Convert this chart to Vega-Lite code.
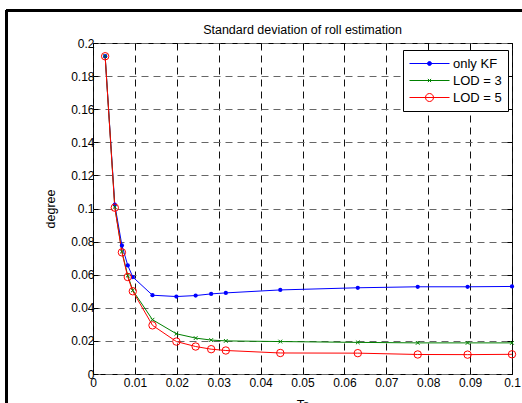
{
  "$schema": "https://vega.github.io/schema/vega-lite/v6.json",
  "width": 419,
  "height": 331,
  "autosize": {"type": "none"},
  "padding": {"left": 93, "top": 43, "right": 10, "bottom": 29},
  "background": "#ffffff",
  "title": {
    "text": "Standard deviation of roll estimation",
    "font": "Liberation Sans",
    "fontSize": 12.5,
    "fontWeight": "normal",
    "color": "#000000",
    "offset": -27
  },
  "config": {
    "view": {"stroke": "#000000", "strokeWidth": 1},
    "axis": {
      "labelFont": "Liberation Sans",
      "labelFontSize": 12,
      "labelColor": "#000000",
      "titleFont": "Liberation Sans",
      "titleFontSize": 12.5,
      "titleFontWeight": "normal",
      "titleColor": "#000000",
      "tickColor": "#000000",
      "tickSize": -5,
      "domain": false,
      "labelFlush": false,
      "labelOverlap": false
    }
  },
  "data": {
    "values": [
      {"t": 0.0029, "series": "only KF", "v": 0.192},
      {"t": 0.0052, "series": "only KF", "v": 0.1023},
      {"t": 0.0069, "series": "only KF", "v": 0.0777},
      {"t": 0.0083, "series": "only KF", "v": 0.0656},
      {"t": 0.0095, "series": "only KF", "v": 0.0586},
      {"t": 0.0142, "series": "only KF", "v": 0.0476},
      {"t": 0.0199, "series": "only KF", "v": 0.0468},
      {"t": 0.0245, "series": "only KF", "v": 0.0474},
      {"t": 0.0282, "series": "only KF", "v": 0.0484},
      {"t": 0.0317, "series": "only KF", "v": 0.049},
      {"t": 0.0447, "series": "only KF", "v": 0.0508},
      {"t": 0.0632, "series": "only KF", "v": 0.0521},
      {"t": 0.0775, "series": "only KF", "v": 0.0527},
      {"t": 0.0894, "series": "only KF", "v": 0.0527},
      {"t": 0.1, "series": "only KF", "v": 0.0529},
      {"t": 0.0029, "series": "LOD = 3", "v": 0.192},
      {"t": 0.0052, "series": "LOD = 3", "v": 0.101},
      {"t": 0.0069, "series": "LOD = 3", "v": 0.074},
      {"t": 0.0083, "series": "LOD = 3", "v": 0.0595},
      {"t": 0.0095, "series": "LOD = 3", "v": 0.0505},
      {"t": 0.0142, "series": "LOD = 3", "v": 0.0328},
      {"t": 0.0199, "series": "LOD = 3", "v": 0.0243},
      {"t": 0.0245, "series": "LOD = 3", "v": 0.0217},
      {"t": 0.0282, "series": "LOD = 3", "v": 0.0205},
      {"t": 0.0317, "series": "LOD = 3", "v": 0.02},
      {"t": 0.0447, "series": "LOD = 3", "v": 0.0196},
      {"t": 0.0632, "series": "LOD = 3", "v": 0.0191},
      {"t": 0.0775, "series": "LOD = 3", "v": 0.0188},
      {"t": 0.0894, "series": "LOD = 3", "v": 0.0188},
      {"t": 0.1, "series": "LOD = 3", "v": 0.0188},
      {"t": 0.0029, "series": "LOD = 5", "v": 0.192},
      {"t": 0.0052, "series": "LOD = 5", "v": 0.1005},
      {"t": 0.0069, "series": "LOD = 5", "v": 0.0735},
      {"t": 0.0083, "series": "LOD = 5", "v": 0.0586},
      {"t": 0.0095, "series": "LOD = 5", "v": 0.05},
      {"t": 0.0142, "series": "LOD = 5", "v": 0.0294},
      {"t": 0.0199, "series": "LOD = 5", "v": 0.0196},
      {"t": 0.0245, "series": "LOD = 5", "v": 0.0166},
      {"t": 0.0282, "series": "LOD = 5", "v": 0.015},
      {"t": 0.0317, "series": "LOD = 5", "v": 0.0142},
      {"t": 0.0447, "series": "LOD = 5", "v": 0.0127},
      {"t": 0.0632, "series": "LOD = 5", "v": 0.0126},
      {"t": 0.0775, "series": "LOD = 5", "v": 0.0118},
      {"t": 0.0894, "series": "LOD = 5", "v": 0.0117},
      {"t": 0.1, "series": "LOD = 5", "v": 0.0119}
    ]
  },
  "resolve": {"axis": {"x": "independent", "y": "independent"}},
  "layer": [
    {
      "description": "figure frame, top edge",
      "mark": {"type": "rule", "color": "#000000", "strokeWidth": 2},
      "encoding": {
        "x": {"datum": -0.0206, "type": "quantitative", "scale": {"domain": [0, 0.1], "nice": false, "zero": false}, "axis": null},
        "x2": {"datum": 0.13},
        "y": {"datum": 0.2197, "type": "quantitative", "scale": {"domain": [0, 0.2], "nice": false, "zero": false}, "axis": null}
      }
    },
    {
      "description": "figure frame, left edge",
      "mark": {"type": "rule", "color": "#000000", "strokeWidth": 2},
      "encoding": {
        "x": {"datum": -0.0206, "type": "quantitative", "axis": null},
        "y": {"datum": 0.2197, "type": "quantitative", "axis": null},
        "y2": {"datum": -0.05}
      }
    },
    {
      "mark": {"type": "line", "strokeWidth": 1},
      "encoding": {
        "x": {
          "field": "t",
          "type": "quantitative",
          "axis": {
            "orient": "bottom",
            "values": [0, 0.01, 0.02, 0.03, 0.04, 0.05, 0.06, 0.07, 0.08, 0.09, 0.1],
            "format": "~g",
            "labelPadding": 8,
            "grid": true,
            "gridColor": "#111111",
            "gridDash": [7, 5],
            "gridWidth": 1,
            "title": "Ts",
            "titleFont": "Liberation Sans",
            "titleFontWeight": "normal",
            "titlePadding": 10
          }
        },
        "y": {
          "field": "v",
          "type": "quantitative",
          "axis": {
            "orient": "left",
            "values": [0, 0.02, 0.04, 0.06, 0.08, 0.1, 0.12, 0.14, 0.16, 0.18, 0.2],
            "format": "~g",
            "labelPadding": 4,
            "grid": true,
            "gridColor": "#666666",
            "gridDash": [7, 5],
            "gridWidth": 1,
            "title": "degree",
            "titleFont": "Liberation Sans",
            "titleFontWeight": "normal",
            "titlePadding": 13
          }
        },
        "color": {
          "field": "series",
          "type": "nominal",
          "scale": {"domain": ["only KF", "LOD = 3", "LOD = 5"], "range": ["#0000ff", "#008000", "#ff0000"]},
          "legend": {
            "title": null,
            "orient": "none",
            "legendX": 310,
            "legendY": 7,
            "strokeColor": "#000000",
            "fillColor": "#ffffff",
            "padding": 6,
            "symbolSize": 1600,
            "symbolStrokeWidth": 1,
            "labelFont": "Liberation Sans",
            "labelFontSize": 13,
            "labelColor": "#000000",
            "labelOffset": 3,
            "clipHeight": 15,
            "rowPadding": 2,
            "encode": {
              "symbols": {
                "update": {
                  "shape": {"signal": "datum.value === 'only KF' ? 'M-1,0H1M0.1,0A0.1,0.1 0 1,1 -0.1,0A0.1,0.1 0 1,1 0.1,0Z' : datum.value === 'LOD = 3' ? 'M-1,0H1M-0.08,-0.08L0.08,0.08M-0.08,0.08L0.08,-0.08' : 'M-1,0H1M0.2,0A0.2,0.2 0 1,1 -0.2,0A0.2,0.2 0 1,1 0.2,0Z'"},
                  "fill": {"signal": "datum.value === 'only KF' ? '#0000ff' : 'transparent'"},
                  "opacity": {"value": 1}
                }
              }
            }
          }
        }
      }
    },
    {
      "transform": [{"filter": "datum.series === 'only KF'"}],
      "mark": {"type": "point", "shape": "circle", "filled": true, "size": 18, "color": "#0000ff", "opacity": 1},
      "encoding": {
        "x": {"field": "t", "type": "quantitative", "axis": null},
        "y": {"field": "v", "type": "quantitative", "axis": null}
      }
    },
    {
      "transform": [{"filter": "datum.series === 'LOD = 3'"}],
      "mark": {"type": "point", "shape": "M-1,-1L1,1M-1,1L1,-1", "filled": false, "size": 14, "strokeWidth": 1, "color": "#008000", "opacity": 1},
      "encoding": {
        "x": {"field": "t", "type": "quantitative", "axis": null},
        "y": {"field": "v", "type": "quantitative", "axis": null}
      }
    },
    {
      "transform": [{"filter": "datum.series === 'LOD = 5'"}],
      "mark": {"type": "point", "shape": "circle", "filled": false, "size": 55, "strokeWidth": 1, "color": "#ff0000", "opacity": 1},
      "encoding": {
        "x": {"field": "t", "type": "quantitative", "axis": null},
        "y": {"field": "v", "type": "quantitative", "axis": null}
      }
    },
    {
      "description": "tick marks on the top and right edges of the box",
      "mark": {"type": "point", "opacity": 0},
      "encoding": {
        "x": {
          "field": "t",
          "type": "quantitative",
          "axis": {"orient": "top", "values": [0, 0.01, 0.02, 0.03, 0.04, 0.05, 0.06, 0.07, 0.08, 0.09, 0.1], "labels": false, "grid": false, "title": null}
        },
        "y": {
          "field": "v",
          "type": "quantitative",
          "axis": {"orient": "right", "values": [0, 0.02, 0.04, 0.06, 0.08, 0.1, 0.12, 0.14, 0.16, 0.18, 0.2], "labels": false, "grid": false, "title": null}
        }
      }
    }
  ]
}
